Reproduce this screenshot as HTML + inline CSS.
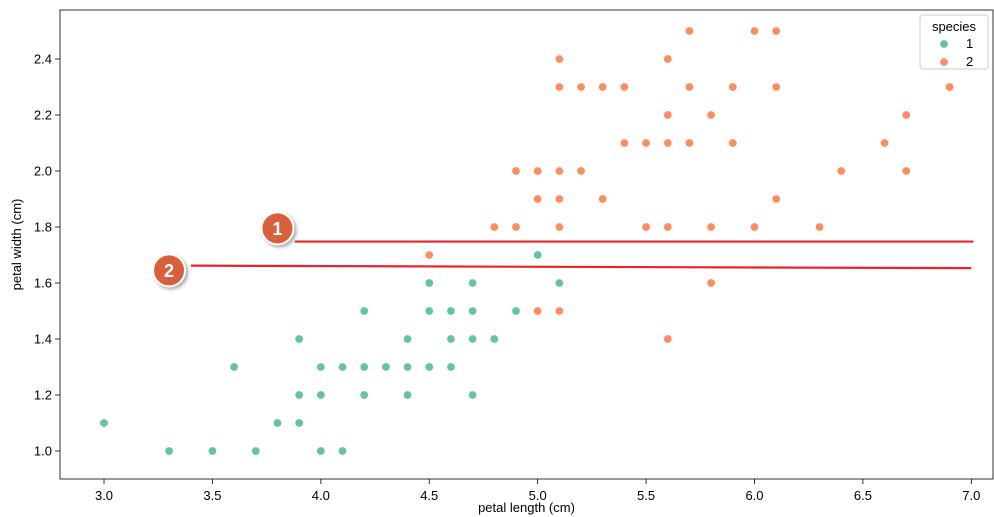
<!DOCTYPE html>
<html><head><meta charset="utf-8"><style>
body{margin:0;background:#fff;font-family:"Liberation Sans",sans-serif;}
svg{display:block}
</style></head><body>
<svg id="chart" width="994" height="517" xmlns="http://www.w3.org/2000/svg" font-family="Liberation Sans, sans-serif">
</svg>
<script>
const versicolorLength=[4.7,4.5,4.9,4.0,4.6,4.5,4.7,3.3,4.6,3.9,3.5,4.2,4.0,4.7,3.6,4.4,4.5,4.1,4.5,3.9,4.8,4.0,4.9,4.7,4.3,4.4,4.8,5.0,4.5,3.5,3.8,3.7,3.9,5.1,4.5,4.5,4.7,4.4,4.1,4.0,4.4,4.6,4.0,3.3,4.2,4.2,4.2,4.3,3.0,4.1];
const versicolorWidth=[1.4,1.5,1.5,1.3,1.5,1.3,1.6,1.0,1.3,1.4,1.0,1.5,1.0,1.4,1.3,1.4,1.5,1.0,1.5,1.1,1.8,1.3,1.5,1.2,1.3,1.4,1.4,1.7,1.5,1.0,1.1,1.0,1.2,1.6,1.5,1.6,1.5,1.3,1.3,1.3,1.2,1.4,1.2,1.0,1.3,1.2,1.3,1.3,1.1,1.3];
const virginicaLength=[6.0,5.1,5.9,5.6,5.8,6.6,4.5,6.3,5.8,6.1,5.1,5.3,5.5,5.0,5.1,5.3,5.5,6.7,6.9,5.0,5.7,4.9,6.7,4.9,5.7,6.0,4.8,4.9,5.6,5.8,6.1,6.4,5.6,5.1,5.6,6.1,5.6,5.5,4.8,5.4,5.6,5.1,5.1,5.9,5.7,5.2,5.0,5.2,5.4,5.1];
const virginicaWidth=[2.5,1.9,2.1,1.8,2.2,2.1,1.7,1.8,1.8,2.5,2.0,1.9,2.1,2.0,2.4,2.3,1.8,2.2,2.3,1.5,2.3,2.0,2.0,1.8,2.1,1.8,1.8,1.8,2.1,1.6,1.9,2.0,2.2,1.5,1.4,2.3,2.4,1.8,1.8,2.1,2.4,2.3,1.9,2.3,2.5,2.3,1.9,2.0,2.3,1.8];
const xTicks=[3.0,3.5,4.0,4.5,5.0,5.5,6.0,6.5,7.0];
const yTicks=[1.0,1.2,1.4,1.6,1.8,2.0,2.2,2.4];
const annotLines=[{label:"1",x1:3.88,y1:1.748,x2:7.01,y2:1.748,mx:3.8,my:1.795},{label:"2",x1:3.4,y1:1.662,x2:7.0,y2:1.653,mx:3.3,my:1.645}];

const L=60,R=993,T=10,B=479;
const xMin=2.797,xMax=7.1,yMin=0.9,yMax=2.575;
const sx=v=>L+(v-xMin)/(xMax-xMin)*(R-L);
const sy=v=>B-(v-yMin)/(yMax-yMin)*(B-T);
const svg=document.getElementById('chart');
const NS='http://www.w3.org/2000/svg';
function mk(tag,attrs,parent){const e=document.createElementNS(NS,tag);for(const k in attrs)e.setAttribute(k,attrs[k]);(parent||svg).appendChild(e);return e;}

const defs=mk('defs',{});
const f=mk('filter',{id:'sh',x:'-50%',y:'-50%',width:'200%',height:'200%'},defs);
mk('feDropShadow',{dx:'2',dy:'2',stdDeviation:'1.5','flood-color':'#000','flood-opacity':'0.35'},f);

xTicks.forEach(t=>{
 const g=mk('g',{});
 
 
 mk('line',{x1:sx(t),x2:sx(t),y1:B,y2:B+5,stroke:'#000','stroke-width':0.8},g);
 const tx=mk('text',{x:sx(t),y:B+21,'text-anchor':'middle','font-size':13,fill:'#000'},g);tx.textContent=t.toFixed(1);
});
yTicks.forEach(t=>{
 const g=mk('g',{});
 
 
 mk('line',{x1:L-5,x2:L,y1:sy(t),y2:sy(t),stroke:'#000','stroke-width':0.8},g);
 const tx=mk('text',{x:L-8,y:sy(t)+4.5,'text-anchor':'end','font-size':13,fill:'#000'},g);tx.textContent=t.toFixed(1);
});
const xt=mk('text',{x:(L+R)/2,y:512,'text-anchor':'middle','font-size':13});xt.textContent='petal length (cm)';


const yt=mk('text',{x:0,y:0,'text-anchor':'middle','font-size':13,transform:`translate(21,${(T+B)/2}) rotate(-90)`});yt.textContent='petal width (cm)';



function pts(xs,ys,color,name){
 xs.forEach((x,i)=>{
  const c=mk('circle',{cx:sx(x),cy:sy(ys[i]),r:4.3,fill:color,stroke:'#fff','stroke-width':0.8});
  
  
 });
}
pts(versicolorLength,versicolorWidth,'#66c2a5','point-species-1');
pts(virginicaLength,virginicaWidth,'#fc8d62','point-species-2');

annotLines.forEach(a=>{
 const ln=mk('line',{x1:sx(a.x1),y1:sy(a.y1),x2:sx(a.x2),y2:sy(a.y2),stroke:'#e8232b','stroke-width':2.2});
 
 
 const g=mk('g',{filter:'url(#sh)'});
 
 
 mk('circle',{cx:sx(a.mx),cy:sy(a.my),r:16,fill:'#d9603e',stroke:'#fff','stroke-width':2},g);
 const t=mk('text',{x:sx(a.mx),y:sy(a.my)+6.5,'text-anchor':'middle','font-size':18,'font-weight':'bold',fill:'#fff'},g);t.textContent=a.label;
});

const frame=mk('rect',{x:L,y:T,width:R-L,height:B-T,fill:'none',stroke:'#000','stroke-width':0.8});



const lg=mk('g',{});


mk('rect',{x:920,y:15,width:68,height:54,rx:3,fill:'#fff','fill-opacity':0.85,stroke:'#ccc','stroke-width':1},lg);
const lt=mk('text',{x:954,y:31,'text-anchor':'middle','font-size':13},lg);lt.textContent='species';
[['1','#66c2a5',48],['2','#fc8d62',66]].forEach(([l,c,y])=>{
 const e=mk('g',{},lg);
 
 
 mk('circle',{cx:944,cy:y-4,r:4.3,fill:c,stroke:'#fff','stroke-width':0.8},e);
 const t=mk('text',{x:966,y:y,'font-size':13},e);t.textContent=l;
});
</script>
</body></html>
